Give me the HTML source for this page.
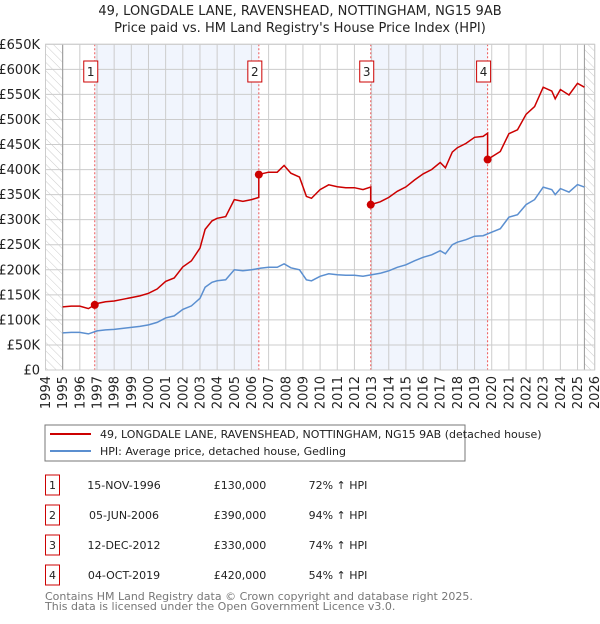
<!DOCTYPE html>
<html><head><meta charset="utf-8">
<style>
body{margin:0;background:#fff;font-family:"DejaVu Sans","Liberation Sans",sans-serif;}
svg text{font-family:"DejaVu Sans","Liberation Sans",sans-serif;}
</style></head><body>
<svg id="c" width="600" height="620" viewBox="0 0 600 620" xmlns="http://www.w3.org/2000/svg">
<defs><pattern id="hatch" width="6" height="6" patternUnits="userSpaceOnUse" patternTransform="rotate(-45)"><line x1="0" y1="0" x2="0" y2="6" stroke="#ccc" stroke-width="1"/></pattern></defs>
<text x="300" y="15" text-anchor="middle" font-size="13" fill="#222">49, LONGDALE LANE, RAVENSHEAD, NOTTINGHAM, NG15 9AB</text>
<text x="300" y="32" text-anchor="middle" font-size="13" fill="#222">Price paid vs. HM Land Registry's House Price Index (HPI)</text>
<g id="plot"></g>
<rect x="45" y="425" width="420" height="36" fill="#fff" stroke="#777"/>
<line x1="50" y1="434" x2="91" y2="434" stroke="#cc0000" stroke-width="2"/>
<text x="100" y="438" font-size="11" fill="#222">49, LONGDALE LANE, RAVENSHEAD, NOTTINGHAM, NG15 9AB (detached house)</text>
<line x1="50" y1="451" x2="91" y2="451" stroke="#5b8fd0" stroke-width="2"/>
<text x="100" y="455" font-size="11" fill="#222">HPI: Average price, detached house, Gedling</text>
<g id="table" font-size="11" fill="#222"></g>
<text x="45" y="600" font-size="11" fill="#777">Contains HM Land Registry data © Crown copyright and database right 2025.</text>
<text x="45" y="610" font-size="11" fill="#777">This data is licensed under the Open Government Licence v3.0.</text>
</svg>
<script>
const hpiYears=[1995,1995.5,1996,1996.5,1997,1997.5,1998,1998.5,1999,1999.5,2000,2000.5,2001,2001.5,2002,2002.5,2003,2003.3,2003.7,2004,2004.5,2005,2005.5,2006,2006.5,2007,2007.5,2007.9,2008.3,2008.8,2009.2,2009.5,2010,2010.5,2011,2011.5,2012,2012.5,2013,2013.5,2014,2014.5,2015,2015.5,2016,2016.5,2017,2017.3,2017.7,2018,2018.5,2019,2019.5,2020,2020.5,2021,2021.5,2022,2022.5,2023,2023.5,2023.7,2024,2024.5,2025,2025.4];
const hpiValues=[74,75,75,72,78,80,81,83,85,87,90,95,104,108,121,128,143,165,175,178,180,200,198,200,203,205,205,212,204,200,180,178,187,192,190,189,189,187,190,193,198,205,210,218,225,230,238,232,250,255,260,267,268,275,282,305,310,330,340,365,360,350,362,355,370,365];
const saleLabels=["1","2","3","4"];
const saleYears=[1996.87,2006.43,2012.95,2019.76];
const salePrices=[130,390,330,420];
const saleDates=["15-NOV-1996","05-JUN-2006","12-DEC-2012","04-OCT-2019"];
const salePriceText=["£130,000","£390,000","£330,000","£420,000"];
const saleHpiText=["72% ↑ HPI","94% ↑ HPI","74% ↑ HPI","54% ↑ HPI"];
const yTicks=[0,50,100,150,200,250,300,350,400,450,500,550,600,650];
const yTickLabels=["£0","£50K","£100K","£150K","£200K","£250K","£300K","£350K","£400K","£450K","£500K","£550K","£600K","£650K"];
const xYears=[1994,1995,1996,1997,1998,1999,2000,2001,2002,2003,2004,2005,2006,2007,2008,2009,2010,2011,2012,2013,2014,2015,2016,2017,2018,2019,2020,2021,2022,2023,2024,2025,2026];

const NS="http://www.w3.org/2000/svg";
const X0=45.5,X1=594.7,Y0=370,Y1=44.3;
const xs=y=>X0+(y-1994)/(2026-1994)*(X1-X0);
const ys=v=>Y0-v/650*(Y0-Y1);
const g=document.getElementById('plot');
function el(t,a,p){const e=document.createElementNS(NS,t);for(const k in a)e.setAttribute(k,a[k]);(p||g).appendChild(e);return e;}
function hpiAt(t){if(t<=hpiYears[0])return hpiValues[0];for(let i=1;i<hpiYears.length;i++){if(t<=hpiYears[i]){const f=(t-hpiYears[i-1])/(hpiYears[i]-hpiYears[i-1]);return hpiValues[i-1]+f*(hpiValues[i]-hpiValues[i-1]);}}return hpiValues[hpiValues.length-1];}

for(const [a,b,n] of [[0,1,'band-1-2'],[2,3,'band-3-4']]){
 const r=el('rect',{x:xs(saleYears[a]),y:Y1,width:xs(saleYears[b])-xs(saleYears[a]),height:Y0-Y1,fill:'#eef3fd',opacity:0.8});
 
 
}
yTicks.forEach((v,i)=>{
 const l=el('line',{x1:X0,x2:X1,y1:ys(v),y2:ys(v),stroke:'#ccc','stroke-width':1});
 
 
 const t=el('text',{x:40,y:ys(v)+4.5,'text-anchor':'end','font-size':13,fill:'#222'});
 t.textContent=yTickLabels[i];
 
 
});
xYears.forEach(yr=>{
 const l=el('line',{x1:xs(yr),x2:xs(yr),y1:Y1,y2:Y0,stroke:'#ccc','stroke-width':1});
 
 
 const t=el('text',{x:0,y:0,'text-anchor':'end','font-size':13,fill:'#222',transform:`translate(${xs(yr)+4.5},376) rotate(-90)`});
 t.textContent=yr;
 
 
});
const h1=el('rect',{x:X0,y:Y1,width:xs(1995)-X0,height:Y0-Y1,fill:'url(#hatch)'});


const h2=el('rect',{x:xs(2025.4),y:Y1,width:X1-xs(2025.4),height:Y0-Y1,fill:'url(#hatch)'});


el('line',{x1:xs(1995),x2:xs(1995),y1:Y1,y2:Y0,stroke:'#999'});
el('line',{x1:xs(2025.4),x2:xs(2025.4),y1:Y1,y2:Y0,stroke:'#999'});
saleYears.forEach((s,i)=>{
 const l=el('line',{x1:xs(s),x2:xs(s),y1:Y1,y2:Y0,stroke:'#ee5555','stroke-width':1,'stroke-dasharray':'2,2'});
 
 
 const r=el('rect',{x:xs(s)-11,y:61,width:14,height:21,fill:'#fff',stroke:'#cc0000'});
 
 
 const t=el('text',{x:xs(s)-4,y:76,'text-anchor':'middle','font-size':12,fill:'#222'});
 t.textContent=saleLabels[i];
 
 
});
let d='';hpiYears.forEach((t,i)=>{d+=(i?'L':'M')+xs(t).toFixed(1)+','+ys(hpiValues[i]).toFixed(1);});
const hp=el('path',{d,fill:'none',stroke:'#5b8fd0','stroke-width':1.5});


const ratios=saleYears.map((s,i)=>salePrices[i]/hpiAt(s));
const pts=[];
const times=[...hpiYears,...saleYears].sort((a,b)=>a-b);
times.forEach(t=>{
 let k=0;for(let i=0;i<saleYears.length;i++)if(t>=saleYears[i])k=i;
 if(saleYears.includes(t)&&k>0&&t===saleYears[k]){pts.push([t,hpiAt(t)*ratios[k-1]]);}
 pts.push([t,hpiAt(t)*ratios[k]]);
});
let d2='';pts.forEach((p,i)=>{d2+=(i?'L':'M')+xs(p[0]).toFixed(1)+','+ys(p[1]).toFixed(1);});
const pp=el('path',{d:d2,fill:'none',stroke:'#cc0000','stroke-width':1.5});


saleYears.forEach((s,i)=>{
 const c=el('circle',{cx:xs(s),cy:ys(salePrices[i]),r:4,fill:'#cc0000'});
 
 
});
el('rect',{x:X0,y:Y1,width:X1-X0,height:Y0-Y1,fill:'none',stroke:'#ccc'});
const tb=document.getElementById('table');
saleLabels.forEach((lab,i)=>{
 const y=483+i*30;
 const r=el('rect',{x:45.5,y:y-8,width:14,height:20,fill:'#fff',stroke:'#cc0000'},tb);
 
 
 const cells=[[52.5,lab,'middle','table-sale-number'],[124,saleDates[i],'middle','table-sale-date'],[240,salePriceText[i],'middle','table-sale-price'],[338,saleHpiText[i],'middle','table-sale-hpi']];
 cells.forEach(c=>{const t=el('text',{x:c[0],y:y+6,'text-anchor':c[2],'font-size':11,fill:'#222'},tb);t.textContent=c[1];
 
 });
});
</script>
</body></html>
